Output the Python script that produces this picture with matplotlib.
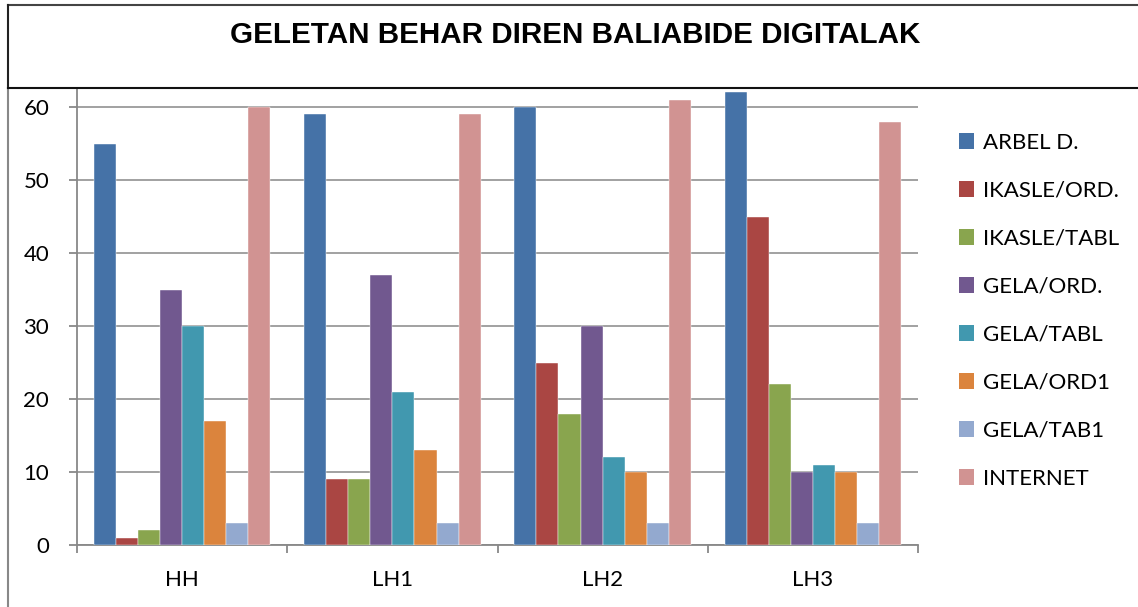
import matplotlib
matplotlib.use("Agg")
import matplotlib.pyplot as plt
from matplotlib.lines import Line2D
from matplotlib.patches import Patch
import numpy as np

categories = ["HH", "LH1", "LH2", "LH3"]
series_names = ["ARBEL D.", "IKASLE/ORD.", "IKASLE/TABL", "GELA/ORD.",
                "GELA/TABL", "GELA/ORD1", "GELA/TAB1", "INTERNET"]
arbel = [55, 59, 60, 62]
ikasle_ord = [1, 9, 25, 45]
ikasle_tabl = [2, 9, 18, 22]
gela_ord = [35, 37, 30, 10]
gela_tabl = [30, 21, 12, 11]
gela_ord1 = [17, 13, 10, 10]
gela_tab1 = [3, 3, 3, 3]
internet = [60, 59, 61, 58]
values = [arbel, ikasle_ord, ikasle_tabl, gela_ord, gela_tabl, gela_ord1, gela_tab1, internet]
colors = ["#4572A7", "#AA4643", "#89A54E", "#71588F", "#4198AF", "#DB843D", "#93A9CF", "#D19392"]

W, H = 1138, 607
fig = plt.figure(figsize=(W / 100, H / 100), dpi=100)
plt.rcParams['font.family'] = ['Lato', 'DejaVu Sans']

def fx(px):
    return px / W

def fy(py):
    return 1 - py / H

FS = 16

ax = fig.add_axes([fx(77), fy(545), fx(918) - fx(77), (545 - 88) / H])
x = np.arange(len(categories))
bw = 0.105
n = len(series_names)
for i, (name, vals, c) in enumerate(zip(series_names, values, colors)):
    ax.bar(x + (i - (n - 1) / 2) * bw, vals, width=bw, color=c, label=name, zorder=3,
           edgecolor='white', linewidth=0.3)

ax.set_xlim(-0.5, 3.5)
ax.set_ylim(0, 457 / 7.3)
ax.set_yticks(range(0, 61, 10))
ax.yaxis.grid(True, color="#888888", linewidth=1.1, zorder=0)
ax.set_axisbelow(True)
for s in ["top", "right"]:
    ax.spines[s].set_visible(False)
for s in ["left", "bottom"]:
    ax.spines[s].set_color("#888888")
    ax.spines[s].set_linewidth(1.3)
ax.set_xticks(x)
ax.set_xticklabels(categories)
ax.set_xticks(np.arange(-0.5, 3.6, 1.0), minor=True)
ax.tick_params(axis="x", which="major", length=0, pad=18, labelsize=FS)
ax.tick_params(axis="x", which="minor", length=6, color="#888888", width=1.3)
ax.tick_params(axis="y", length=6, color="#888888", width=1.3, labelsize=FS, pad=14)

handles = [Patch(facecolor=c, label=nm) for nm, c in zip(series_names, colors)]
fig.legend(handles=handles, loc="upper left", bbox_to_anchor=(fx(950), fy(124)),
           frameon=False, fontsize=FS, handlelength=0.7, handleheight=0.7,
           handletextpad=0.4, labelspacing=1.26, borderaxespad=0)

fig.text(fx(575), fy(35), "GELETAN BEHAR DIREN BALIABIDE DIGITALAK",
         ha="center", va="center", fontsize=21.3, fontweight="bold",
         family=["Liberation Sans", "DejaVu Sans"])

fig.add_artist(Line2D([fx(8), 1], [fy(5), fy(5)], color="#444444", linewidth=1.5))
fig.add_artist(Line2D([fx(8), fx(8)], [fy(5), fy(88)], color="#222222", linewidth=1.5))
fig.add_artist(Line2D([fx(8), fx(8)], [fy(88), 0], color="#888888", linewidth=1.5))
fig.add_artist(Line2D([fx(8), 1], [fy(88), fy(88)], color="#111111", linewidth=1.5))

fig.savefig("out.png", dpi=100)
